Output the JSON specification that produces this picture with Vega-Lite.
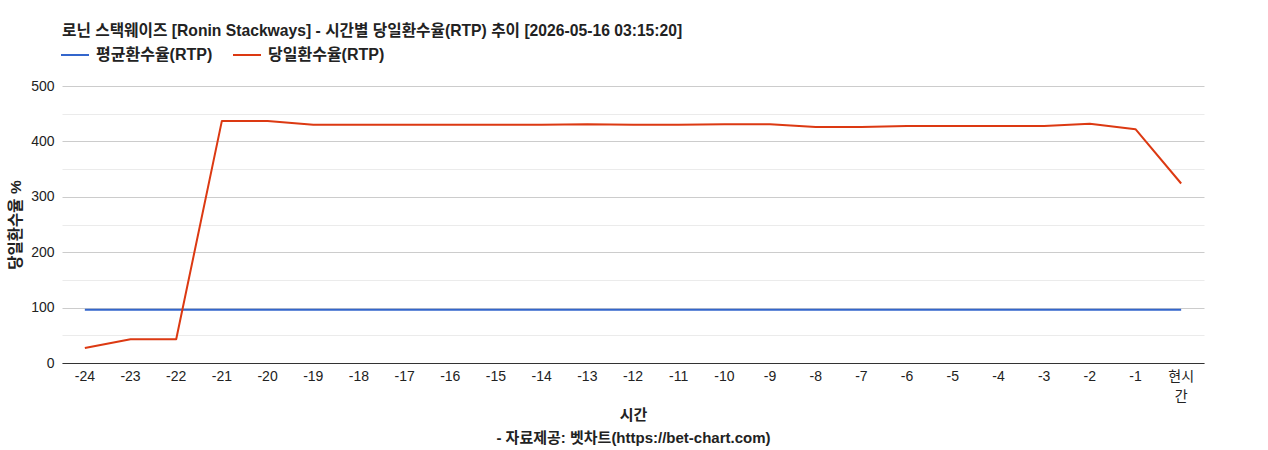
{
  "$schema": "https://vega.github.io/schema/vega-lite/v6.json",
  "autosize": "none",
  "width": 1142,
  "height": 277,
  "padding": {"left": 62, "top": 86, "right": 64, "bottom": 87},
  "background": "white",
  "title": {
    "text": "로닌 스택웨이즈 [Ronin Stackways] - 시간별 당일환수율(RTP) 추이 [2026-05-16 03:15:20]",
    "anchor": "start",
    "frame": "group",
    "font": "Liberation Sans, Noto Sans CJK KR",
    "fontSize": 15.7,
    "fontWeight": "bold",
    "color": "#222",
    "offset": 0
  },
  "data": {
    "values": [
      {"hour": "-24", "series": "평균환수율(RTP)", "rtp": 96},
      {"hour": "-23", "series": "평균환수율(RTP)", "rtp": 96},
      {"hour": "-22", "series": "평균환수율(RTP)", "rtp": 96},
      {"hour": "-21", "series": "평균환수율(RTP)", "rtp": 96},
      {"hour": "-20", "series": "평균환수율(RTP)", "rtp": 96},
      {"hour": "-19", "series": "평균환수율(RTP)", "rtp": 96},
      {"hour": "-18", "series": "평균환수율(RTP)", "rtp": 96},
      {"hour": "-17", "series": "평균환수율(RTP)", "rtp": 96},
      {"hour": "-16", "series": "평균환수율(RTP)", "rtp": 96},
      {"hour": "-15", "series": "평균환수율(RTP)", "rtp": 96},
      {"hour": "-14", "series": "평균환수율(RTP)", "rtp": 96},
      {"hour": "-13", "series": "평균환수율(RTP)", "rtp": 96},
      {"hour": "-12", "series": "평균환수율(RTP)", "rtp": 96},
      {"hour": "-11", "series": "평균환수율(RTP)", "rtp": 96},
      {"hour": "-10", "series": "평균환수율(RTP)", "rtp": 96},
      {"hour": "-9", "series": "평균환수율(RTP)", "rtp": 96},
      {"hour": "-8", "series": "평균환수율(RTP)", "rtp": 96},
      {"hour": "-7", "series": "평균환수율(RTP)", "rtp": 96},
      {"hour": "-6", "series": "평균환수율(RTP)", "rtp": 96},
      {"hour": "-5", "series": "평균환수율(RTP)", "rtp": 96},
      {"hour": "-4", "series": "평균환수율(RTP)", "rtp": 96},
      {"hour": "-3", "series": "평균환수율(RTP)", "rtp": 96},
      {"hour": "-2", "series": "평균환수율(RTP)", "rtp": 96},
      {"hour": "-1", "series": "평균환수율(RTP)", "rtp": 96},
      {"hour": "현시간", "series": "평균환수율(RTP)", "rtp": 96},
      {"hour": "-24", "series": "당일환수율(RTP)", "rtp": 27},
      {"hour": "-23", "series": "당일환수율(RTP)", "rtp": 43},
      {"hour": "-22", "series": "당일환수율(RTP)", "rtp": 43},
      {"hour": "-21", "series": "당일환수율(RTP)", "rtp": 437},
      {"hour": "-20", "series": "당일환수율(RTP)", "rtp": 437},
      {"hour": "-19", "series": "당일환수율(RTP)", "rtp": 430},
      {"hour": "-18", "series": "당일환수율(RTP)", "rtp": 430},
      {"hour": "-17", "series": "당일환수율(RTP)", "rtp": 430},
      {"hour": "-16", "series": "당일환수율(RTP)", "rtp": 430},
      {"hour": "-15", "series": "당일환수율(RTP)", "rtp": 430},
      {"hour": "-14", "series": "당일환수율(RTP)", "rtp": 430},
      {"hour": "-13", "series": "당일환수율(RTP)", "rtp": 431},
      {"hour": "-12", "series": "당일환수율(RTP)", "rtp": 430},
      {"hour": "-11", "series": "당일환수율(RTP)", "rtp": 430},
      {"hour": "-10", "series": "당일환수율(RTP)", "rtp": 431},
      {"hour": "-9", "series": "당일환수율(RTP)", "rtp": 431},
      {"hour": "-8", "series": "당일환수율(RTP)", "rtp": 426},
      {"hour": "-7", "series": "당일환수율(RTP)", "rtp": 426},
      {"hour": "-6", "series": "당일환수율(RTP)", "rtp": 428},
      {"hour": "-5", "series": "당일환수율(RTP)", "rtp": 428},
      {"hour": "-4", "series": "당일환수율(RTP)", "rtp": 428},
      {"hour": "-3", "series": "당일환수율(RTP)", "rtp": 428},
      {"hour": "-2", "series": "당일환수율(RTP)", "rtp": 432},
      {"hour": "-1", "series": "당일환수율(RTP)", "rtp": 422},
      {"hour": "현시간", "series": "당일환수율(RTP)", "rtp": 324}
    ]
  },
  "mark": {"type": "line", "strokeWidth": 2, "strokeJoin": "round"},
  "encoding": {
    "x": {
      "field": "hour",
      "type": "ordinal",
      "sort": ["-24", "-23", "-22", "-21", "-20", "-19", "-18", "-17", "-16", "-15", "-14", "-13", "-12", "-11", "-10", "-9", "-8", "-7", "-6", "-5", "-4", "-3", "-2", "-1", "현시간"],
      "scale": {"type": "band", "paddingInner": 0, "paddingOuter": 0},
      "title": ["시간", "- 자료제공: 벳차트(https://bet-chart.com)"],
      "axis": {
        "labelAngle": 0,
        "ticks": false,
        "grid": false,
        "domainColor": "#333",
        "labelPadding": 6,
        "labelLineHeight": 20,
        "labelExpr": "datum.value == '현시간' ? ['현시', '간'] : datum.label",
        "titlePadding": 4,
        "titleFontSize": 15,
        "titleLineHeight": 23
      }
    },
    "y": {
      "field": "rtp",
      "type": "quantitative",
      "scale": {"domain": [0, 500], "nice": false},
      "title": "당일환수율 %",
      "axis": {
        "values": [0, 50, 100, 150, 200, 250, 300, 350, 400, 450, 500],
        "labelExpr": "datum.value % 100 === 0 ? datum.label : ''",
        "domain": false,
        "ticks": false,
        "labelPadding": 8,
        "titlePadding": 7,
        "titleFontSize": 15.5,
        "gridColor": {"condition": {"test": "datum.value % 100 === 0", "value": "#cccccc"}, "value": "#ebebeb"}
      }
    },
    "color": {
      "field": "series",
      "type": "nominal",
      "sort": ["평균환수율(RTP)", "당일환수율(RTP)"],
      "scale": {"domain": ["평균환수율(RTP)", "당일환수율(RTP)"], "range": ["#3366cc", "#dc3912"]},
      "legend": {
        "title": null,
        "orient": "none",
        "direction": "horizontal",
        "legendX": -2,
        "legendY": -46,
        "symbolType": "stroke",
        "symbolSize": 784,
        "symbolStrokeWidth": 2,
        "columnPadding": 16,
        "labelOffset": 6
      }
    }
  },
  "config": {
    "font": "Liberation Sans, Noto Sans CJK KR",
    "view": {"stroke": null},
    "axis": {
      "labelFont": "Liberation Sans, Noto Sans CJK KR",
      "labelFontSize": 14,
      "labelColor": "#222",
      "titleFont": "Liberation Sans, Noto Sans CJK KR",
      "titleFontSize": 14,
      "titleFontWeight": "bold",
      "titleColor": "#222"
    },
    "legend": {
      "labelFont": "Liberation Sans, Noto Sans CJK KR",
      "labelFontSize": 16,
      "labelFontWeight": "bold",
      "labelColor": "#222"
    }
  }
}
